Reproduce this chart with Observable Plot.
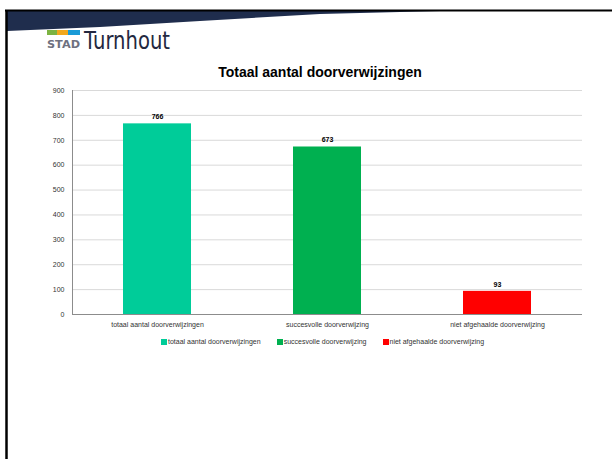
<!DOCTYPE html>
<html><head><meta charset="utf-8">
<script src="https://cdn.jsdelivr.net/npm/d3@7"></script>
<script src="https://cdn.jsdelivr.net/npm/@observablehq/plot@0.6"></script>
<style>
body{margin:0;background:#fff;font-family:"Liberation Sans",Arial,sans-serif;}
#wrap{position:relative;width:612px;height:459px;overflow:hidden;background:#fff;}
#deco{position:absolute;left:0;top:0;}
#chart{position:absolute;left:0;top:0;}
#title{position:absolute;left:0;width:640px;top:64px;text-align:center;font-weight:bold;font-size:14px;color:#000;}
#legend{position:absolute;top:338px;left:161px;font-size:7px;color:#333;display:flex;gap:0;white-space:nowrap;}
.li{display:flex;align-items:center;margin-right:16px;}
.sw{width:6px;height:6px;margin-right:1px;}
</style></head><body>
<div id="wrap">
<svg id="deco" width="612" height="459">
  <polygon points="7,11 612,11 440,11 320,14 200,21 100,27 7,31" fill="#1f2d4d"/>
  <line x1="5" y1="10.5" x2="612" y2="10.5" stroke="#000" stroke-width="2"/>
  <line x1="6.5" y1="10" x2="6.5" y2="459" stroke="#000" stroke-width="2.5"/>
  <rect x="47" y="30" width="10" height="5" fill="#7cb342"/>
  <rect x="57" y="30" width="11" height="5" fill="#f2a81d"/>
  <rect x="68" y="30" width="12" height="5" fill="#1a9bd7"/>
  <text x="47" y="48" font-family="DejaVu Sans" font-weight="bold" font-size="11" fill="#6e7180" textLength="33" lengthAdjust="spacingAndGlyphs">STAD</text>
  <text x="84" y="49" font-family="DejaVu Sans" font-size="25" fill="#232840" textLength="86" lengthAdjust="spacingAndGlyphs">Turnhout</text>
</svg>
<div id="title">Totaal aantal doorverwijzingen</div>
<div id="chart"></div>
<div id="legend"></div>
</div>
<script>
const categories = ["totaal aantal doorverwijzingen", "succesvolle doorverwijzing", "niet afgehaalde doorverwijzing"];
const values = [766, 673, 93];
const colors = ["#00CC99", "#00B050", "#FF0000"];
const yTicks = [0, 100, 200, 300, 400, 500, 600, 700, 800, 900];

const data = categories.map((c, i) => ({cat: c, value: values[i], color: colors[i]}));

const chart = Plot.plot({
  width: 612,
  height: 459,
  marginLeft: 72,
  marginRight: 30,
  marginTop: 90,
  marginBottom: 145,
  style: {fontFamily: "Liberation Sans, Arial, sans-serif", fontSize: "7px", color: "#333", background: "transparent"},
  x: {domain: categories, paddingInner: 0.6, paddingOuter: 0.3, label: null},
  y: {domain: [0, 900], label: null},
  marks: [
    Plot.gridY(yTicks, {stroke: "#d9d9d9", strokeOpacity: 1}),
    Plot.barY(data, {x: "cat", y: "value", fill: "color"}),
    Plot.text(data, {x: "cat", y: "value", text: d => String(d.value), dy: -7, fontWeight: "bold", fill: "#000", fontSize: 7}),
    Plot.axisY(yTicks, {tickSize: 0, tickPadding: 8, fill: "#333", fontSize: 7, label: null}),
    Plot.frame({anchor: "left", stroke: "#8c8c8c", strokeOpacity: 1}),
    Plot.ruleY([0], {stroke: "#8c8c8c"}),
    Plot.axisX({tickSize: 0, tickPadding: 8, fill: "#333", fontSize: 7, label: null})
  ]
});
document.getElementById("chart").appendChild(chart);

const leg = document.getElementById("legend");
categories.forEach((c, i) => {
  const d = document.createElement("div");
  d.className = "li";
  d.innerHTML = `<span class="sw" style="background:${colors[i]}"></span><span>${c}</span>`;
  leg.appendChild(d);
});
</script>
</body></html>
